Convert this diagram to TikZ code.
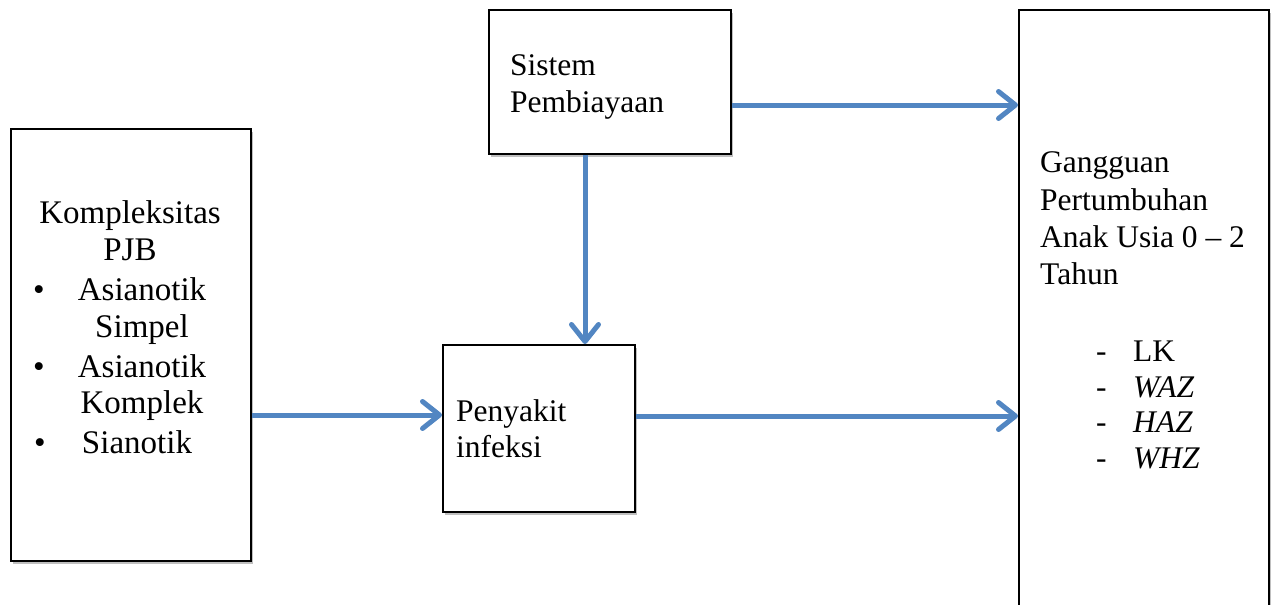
\documentclass[tikz,border=0pt]{standalone}
\usepackage{fontspec}
\setmainfont{Liberation Serif}
\usetikzlibrary{arrows.meta,shadows}
\definecolor{arr}{RGB}{82,134,194}
\begin{document}
\begin{tikzpicture}[x=1pt,y=-1pt,
 box/.style={draw=black, line width=1.8pt, fill=white, inner sep=0pt, anchor=north west,
   drop shadow={shadow xshift=2.5pt, shadow yshift=-3pt, opacity=0.25, fill=black}},
 conn/.style={draw=arr, line width=5pt, -{Straight Barb[length=17pt,width=27pt,round]}},
 lbl/.style={anchor=base west, inner sep=0pt, font=\fontsize{31.5}{37}\selectfont},
 lb/.style={anchor=base, inner sep=0pt, font=\fontsize{33}{38}\selectfont}]
\useasboundingbox (0,0) rectangle (1272,605);
\node[box, minimum width=240pt, minimum height=432pt] (kb) at (10,128) {};
\node[box, minimum width=242pt, minimum height=144pt] (sb) at (488,9) {};
\node[box, minimum width=192pt, minimum height=167pt] (pb) at (442,344) {};
\node[box, minimum width=250pt, minimum height=640pt] (gb) at (1018,9) {};
% left box text
\node[lb] (k1) at (130,223) {Kompleksitas};
\node[lb] (k2) at (130,260) {PJB};
\node[lb] (d1) at (39,300) {•};
\node[lb] (k3) at (142,300) {Asianotik};
\node[lb] (k4) at (142,337) {Simpel};
\node[lb] (d2) at (39,377) {•};
\node[lb] (k5) at (142,377) {Asianotik};
\node[lb] (k6) at (142,413) {Komplek};
\node[lb] (d3) at (40,453) {•};
\node[lb] (k7) at (137,453) {Sianotik};
% sistem
\node[lbl] (s1) at (510,75) {Sistem};
\node[lbl] (s2) at (510,112) {Pembiayaan};
% penyakit
\node[lbl] (p1) at (456,421) {Penyakit};
\node[lbl] (p2) at (456,457) {infeksi};
% gangguan
\node[lbl] (g1) at (1040,172) {Gangguan};
\node[lbl] (g2) at (1040,210) {Pertumbuhan};
\node[lbl] (g3) at (1040,247) {Anak Usia 0 – 2};
\node[lbl] (g4) at (1040,284) {Tahun};
\node[lbl] (m1) at (1096,361) {-};
\node[lbl] (m2) at (1096,397) {-};
\node[lbl] (m3) at (1096,432) {-};
\node[lbl] (m4) at (1096,468) {-};
\node[lbl] (l1) at (1133,361) {LK};
\node[lbl] (l2) at (1133,397) {\itshape WAZ};
\node[lbl] (l3) at (1133,432) {\itshape HAZ};
\node[lbl] (l4) at (1133,468) {\itshape WHZ};
% connectors
\coordinate (ya) at (0,415);
\coordinate (yb) at (0,416);
\coordinate (yc) at (0,105);
\coordinate (xd) at (585,0);
\draw[conn] (ya -| kb.east) -- (ya -| pb.west);
\draw[conn] (yb -| pb.east) -- (yb -| gb.west);
\draw[conn] (yc -| sb.east) -- (yc -| gb.west);
\draw[conn] (xd |- sb.south) -- (xd |- pb.north);
\end{tikzpicture}
\end{document}
